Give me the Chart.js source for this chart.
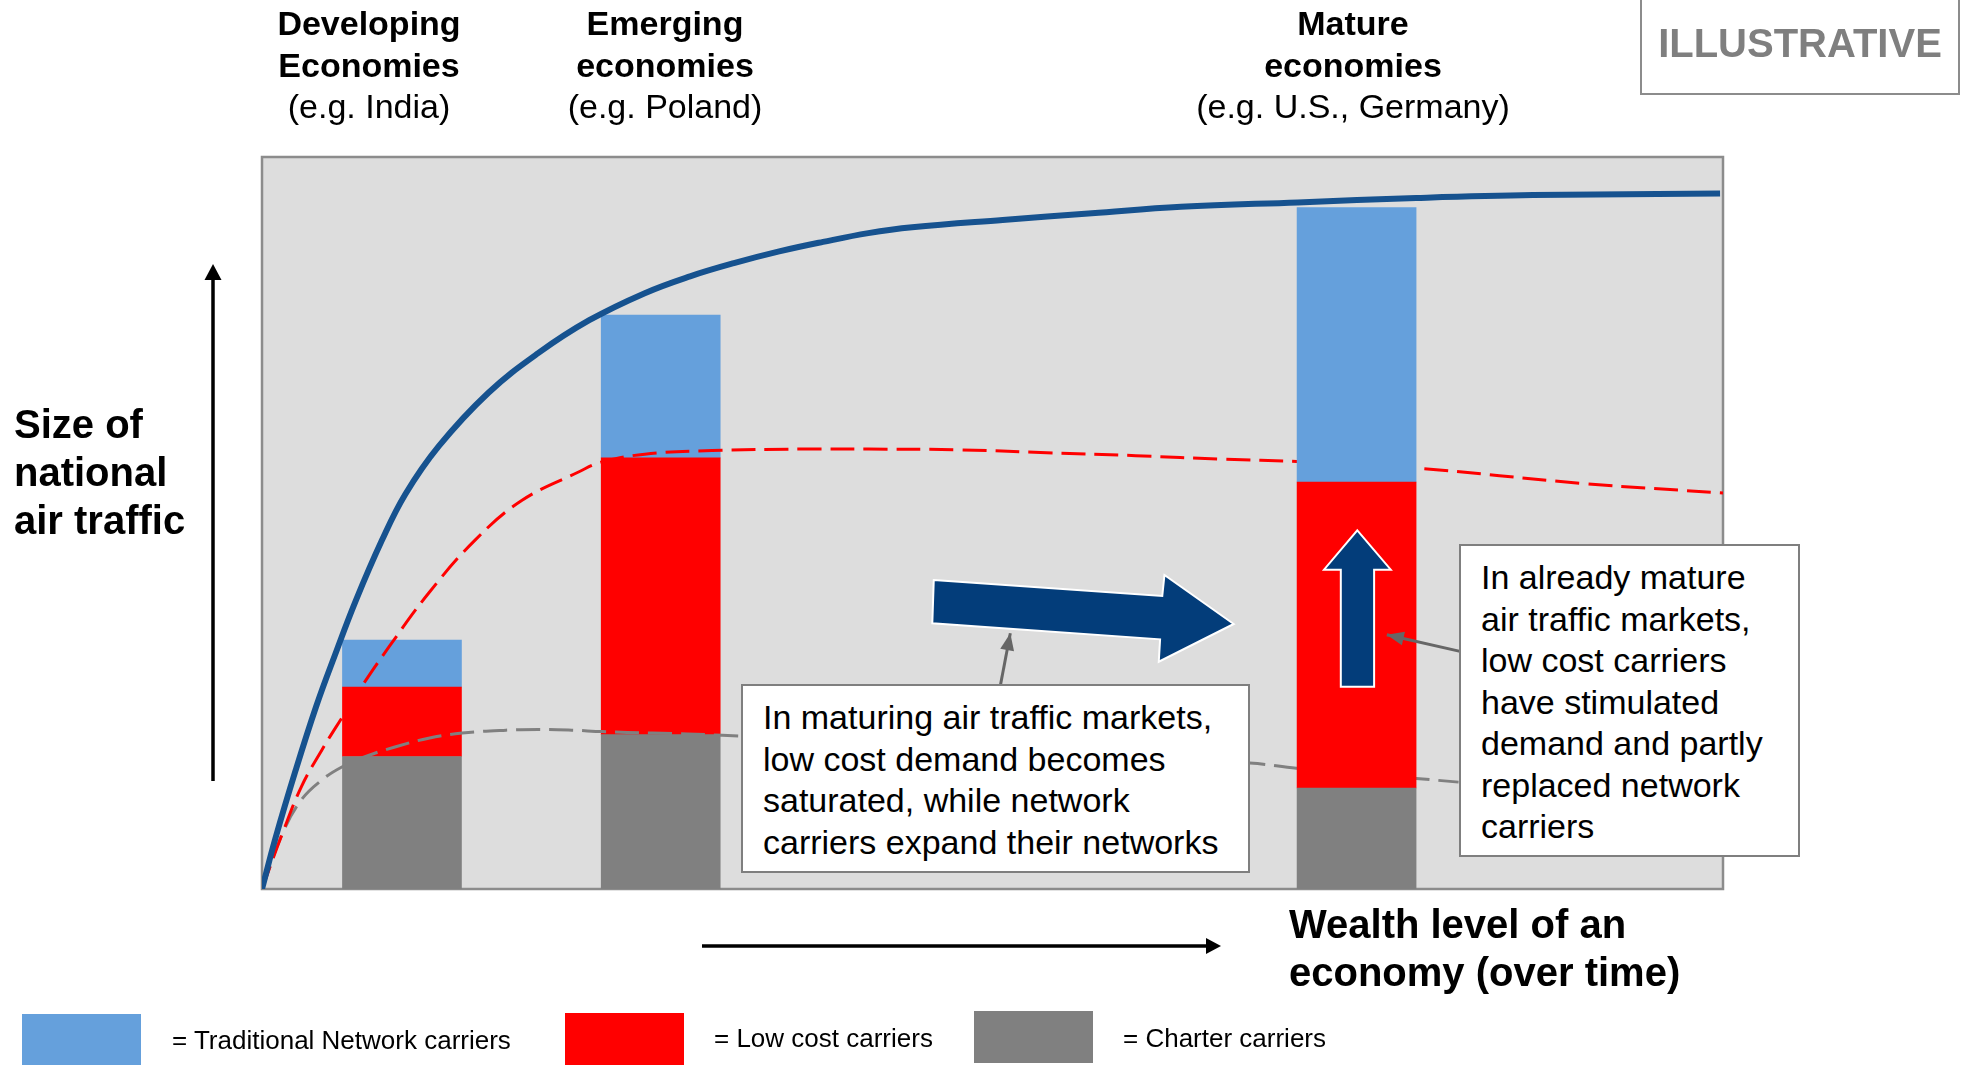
<!DOCTYPE html>
<html lang="en">
<head>
<meta charset="UTF-8">
<title>Air traffic and wealth level of an economy</title>
<script src="https://cdn.jsdelivr.net/npm/chart.js"></script>
<style>
  body { margin: 0; background: #fff; font-family: "Liberation Sans", Arial, Helvetica, sans-serif; }
  #wrap { position: relative; width: 1970px; height: 1065px; overflow: hidden; }
  #chart { position: absolute; left: 0; top: 0; }
  .lbl { position: absolute; white-space: nowrap; color: #000; }
  .group { width: 420px; text-align: center; font-size: 34px; line-height: 41.5px; top: 3px; }
  .group b { font-weight: bold; }
  .axis { font-size: 40px; font-weight: bold; line-height: 47.8px; }
  .note { position: absolute; box-sizing: border-box; background: #fff; border: 2px solid #7f7f7f;
          font-size: 34px; line-height: 41.5px; white-space: nowrap; padding-left: 20px; padding-top: 11px; }
  .swatch { position: absolute; width: 119px; height: 52px; }
  .key { position: absolute; font-size: 26px; line-height: 30px; white-space: nowrap; }
  #stamp { position: absolute; left: 1640px; top: -4px; width: 320px; height: 99px; box-sizing: border-box;
           border: 2px solid #8c8c8c; color: #7f7f7f; font-weight: bold; font-size: 40px;
           text-align: center; line-height: 90px; }
</style>
</head>
<body>
<div id="wrap">
  <canvas id="chart" width="1970" height="1065"></canvas>

  <div class="lbl group" style="left:159px"><b>Developing</b><br><b>Economies</b><br>(e.g. India)</div>
  <div class="lbl group" style="left:455px"><b>Emerging</b><br><b>economies</b><br>(e.g. Poland)</div>
  <div class="lbl group" style="left:1143px"><b>Mature</b><br><b>economies</b><br>(e.g. U.S., Germany)</div>
  <div id="stamp">ILLUSTRATIVE</div>

  <div class="lbl axis" style="left:14px; top:401px">Size of<br>national<br>air traffic</div>
  <div class="lbl axis" style="left:1289px; top:901px">Wealth level of an<br>economy (over time)</div>

  <div class="note" style="left:741px; top:684px; width:509px; height:189px">In maturing air traffic markets,<br>low cost demand becomes<br>saturated, while network<br>carriers expand their networks</div>
  <div class="note" style="left:1459px; top:544px; width:341px; height:313px">In already mature<br>air traffic markets,<br>low cost carriers<br>have stimulated<br>demand and partly<br>replaced network<br>carriers</div>

  <div class="swatch" style="left:22px; top:1014px; background:#65a0dc"></div>
  <div class="key" style="left:172px; top:1025px">= Traditional Network carriers</div>
  <div class="swatch" style="left:565px; top:1013px; background:#ff0000"></div>
  <div class="key" style="left:714px; top:1023px">= Low cost carriers</div>
  <div class="swatch" style="left:974px; top:1011px; background:#808080"></div>
  <div class="key" style="left:1123px; top:1023px">= Charter carriers</div>
</div>

<script>
// wealth axis runs 0..100, traffic axis runs 0..100
const barX = [9.58, 27.29, 74.92];          // developing, emerging, mature
const charter = [18.1, 21.1, 13.8];
const lowCost = [9.5, 37.8, 41.8];
const network = [6.4, 19.5, 37.5];

// total traffic curve
const totalX = [0, 0.9, 2.3, 3.7, 5.0, 6.4, 8.2, 9.8, 12.1, 15.5, 18.9, 22.4, 26.2, 29.3, 32.3,
                35.4, 38.4, 41.5, 44.5, 50.7, 56.8, 62.9, 70.9, 79.0, 87.0, 99.8];
const totalY = [0, 6.8, 16.2, 24.9, 32.0, 39.3, 47.6, 53.9, 60.5, 67.8, 73.2, 77.7, 81.4, 83.7, 85.5,
                87.1, 88.4, 89.6, 90.4, 91.4, 92.3, 93.2, 93.8, 94.4, 94.8, 95.0];

// low cost share curve
const lccX = [0, 1.4, 2.7, 4.1, 5.5, 6.8, 8.7, 11.4, 14.6, 17.8, 21.7, 23.2, 26.2, 30.8, 36.9,
              41.5, 47.6, 53.7, 59.8, 65.9, 70.8, 79.0, 90.4, 100];
const lccY = [0, 7.6, 14.0, 19.0, 23.5, 27.6, 33.1, 40.4, 47.7, 53.1, 57.0, 58.3, 59.4, 59.9, 60.1,
              60.1, 60.0, 59.6, 59.2, 58.7, 58.4, 57.5, 55.4, 54.1];

// charter share curve
const charterX = [0, 1.4, 2.7, 4.1, 5.5, 7.1, 9.1, 11.4, 13.7, 16.7, 18.9, 21.2, 23.3, 26.7, 31.5,
                  67.6, 70.8, 79.0, 81.9];
const charterY = [0, 7.6, 12.2, 14.9, 16.7, 18.1, 19.4, 20.6, 21.3, 21.7, 21.8, 21.7, 21.5, 21.3, 21.0,
                  17.2, 16.5, 15.1, 14.6];

// arrow shapes, in axis units
const growthArrow = [[45.98, 42.21], [61.62, 40.03], [61.77, 42.90], [66.51, 36.20],
                     [61.38, 31.05], [61.47, 34.11], [45.88, 36.30]];
const lccArrow = [[74.97, 48.99], [77.26, 43.63], [76.12, 43.63], [76.12, 27.62],
                  [73.84, 27.62], [73.84, 43.63], [72.69, 43.63]];
const pointers = [[[50.48, 27.19], [51.22, 34.93]], [[82.0, 32.46], [76.99, 34.74]]];

const pts = (xs, ys) => xs.map((x, i) => ({ x: x, y: ys[i] }));

function barSet(label, color, values, idx, order) {
  return {
    type: 'bar',
    label: label,
    data: idx.map(i => ({ x: barX[i], y: values[i] })),
    backgroundColor: color,
    borderWidth: 0,
    barThickness: 119,
    yAxisID: 'yb',
    order: order
  };
}

function lineSet(label, xs, ys, color, width, dash) {
  return {
    type: 'line',
    label: label,
    data: pts(xs, ys),
    borderColor: color,
    borderWidth: width,
    borderDash: dash,
    pointRadius: 0,
    fill: false,
    tension: 0.4,
    yAxisID: 'y',
    order: 1
  };
}

function drawArrowHead(ctx, x0, y0, x1, y1, len, half) {
  const a = Math.atan2(y1 - y0, x1 - x0);
  ctx.beginPath();
  ctx.moveTo(x1, y1);
  ctx.lineTo(x1 - len * Math.cos(a) + half * Math.sin(a), y1 - len * Math.sin(a) - half * Math.cos(a));
  ctx.lineTo(x1 - len * Math.cos(a) - half * Math.sin(a), y1 - len * Math.sin(a) + half * Math.cos(a));
  ctx.closePath();
  ctx.fill();
}

const backdrop = {
  id: 'backdrop',
  beforeDatasetsDraw(chart) {
    const { ctx, chartArea: a } = chart;
    ctx.save();
    ctx.fillStyle = '#dddddd';
    ctx.fillRect(a.left, a.top, a.width, a.height);
    ctx.strokeStyle = '#8c8c8c';
    ctx.lineWidth = 2.5;
    ctx.strokeRect(a.left, a.top, a.width, a.height);
    ctx.restore();
  }
};

const callouts = {
  id: 'callouts',
  afterDatasetsDraw(chart) {
    const { ctx } = chart;
    const sx = chart.scales.x, sy = chart.scales.y;
    const px = p => [sx.getPixelForValue(p[0]), sy.getPixelForValue(p[1])];
    ctx.save();
    [growthArrow, lccArrow].forEach(shape => {
      ctx.beginPath();
      shape.map(px).forEach((p, i) => i ? ctx.lineTo(p[0], p[1]) : ctx.moveTo(p[0], p[1]));
      ctx.closePath();
      ctx.fillStyle = '#033d7a';
      ctx.fill();
      ctx.strokeStyle = '#ffffff';
      ctx.lineWidth = 2;
      ctx.lineJoin = 'miter';
      ctx.stroke();
    });
    ctx.strokeStyle = '#666666';
    ctx.fillStyle = '#666666';
    ctx.lineWidth = 3;
    pointers.forEach(seg => {
      const [a, b] = seg.map(px);
      ctx.beginPath();
      ctx.moveTo(a[0], a[1]);
      ctx.lineTo(b[0], b[1]);
      ctx.stroke();
      drawArrowHead(ctx, a[0], a[1], b[0], b[1], 17, 7);
    });
    ctx.restore();
  },
  afterDraw(chart) {
    // axis direction arrows outside the plot
    const { ctx, chartArea: a } = chart;
    ctx.save();
    ctx.strokeStyle = '#000';
    ctx.fillStyle = '#000';
    ctx.lineWidth = 3.5;
    const vx = a.left - 49;
    ctx.beginPath();
    ctx.moveTo(vx, 781);
    ctx.lineTo(vx, 276);
    ctx.stroke();
    drawArrowHead(ctx, vx, 781, vx, 264, 16, 8.5);
    const hy = 946;
    ctx.beginPath();
    ctx.moveTo(702, hy);
    ctx.lineTo(1208, hy);
    ctx.stroke();
    drawArrowHead(ctx, 702, hy, 1221, hy, 15, 8);
    ctx.restore();
  }
};

new Chart(document.getElementById('chart'), {
  type: 'bar',
  data: {
    datasets: [
      barSet('Charter carriers', '#808080', charter, [2], 0),
      barSet('Low cost carriers', '#ff0000', lowCost, [2], 0),
      barSet('Traditional Network carriers', '#65a0dc', network, [2], 0),
      lineSet('Total air traffic', totalX, totalY, '#16528f', 6, []),
      lineSet('Low cost carriers trend', lccX, lccY, '#ff0000', 3, [24, 9]),
      lineSet('Charter carriers trend', charterX, charterY, '#808080', 3, [24, 9]),
      barSet('Charter carriers', '#808080', charter, [0, 1], 2),
      barSet('Low cost carriers', '#ff0000', lowCost, [0, 1], 2),
      barSet('Traditional Network carriers', '#65a0dc', network, [0, 1], 2)
    ]
  },
  options: {
    responsive: false,
    animation: false,
    layout: { padding: { left: 262, top: 157, right: 247, bottom: 176 } },
    plugins: { legend: { display: false }, tooltip: { enabled: false } },
    scales: {
      x: { type: 'linear', min: 0, max: 100, offset: false, stacked: true, display: false },
      y: { type: 'linear', min: 0, max: 100, display: false },
      yb: { type: 'linear', min: 0, max: 100, stacked: true, display: false }
    }
  },
  plugins: [backdrop, callouts]
});
</script>
</body>
</html>
